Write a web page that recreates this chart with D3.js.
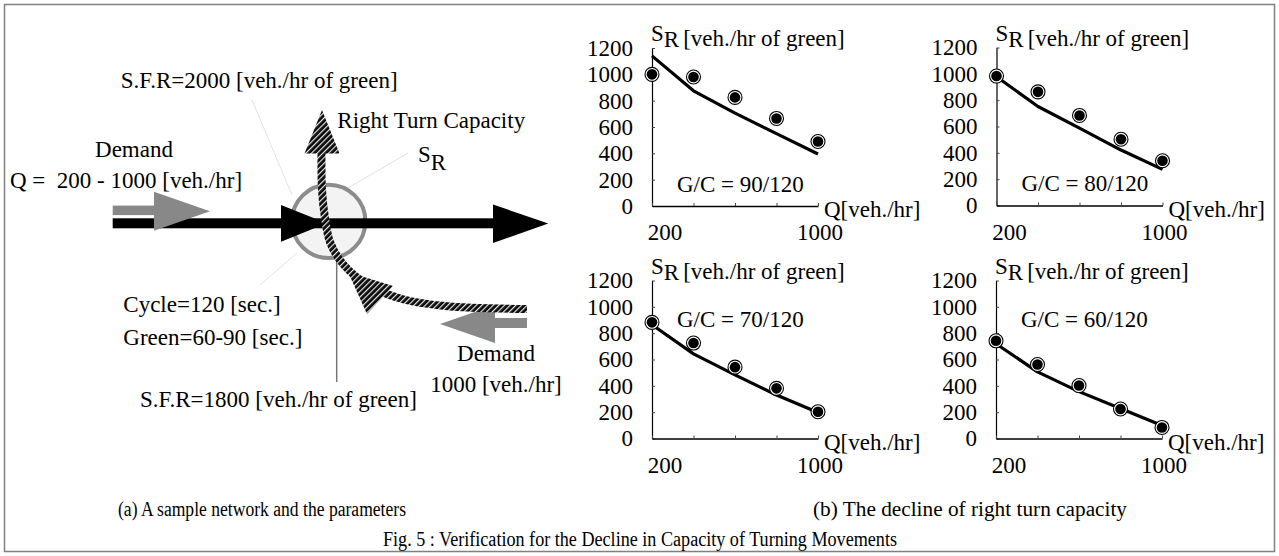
<!DOCTYPE html>
<html><head><meta charset="utf-8">
<script src="https://cdn.jsdelivr.net/npm/d3@7"></script>
<style>
body{margin:0;background:#fff;}
text{font-family:"Liberation Serif","Times New Roman",serif;fill:#000;}
</style></head>
<body><svg id="c" width="1279" height="556"></svg>
<script>
// ---------------- data ----------------
const qValues = [200, 400, 600, 800, 1000];
const yTickValues = [0, 200, 400, 600, 800, 1000, 1200];
const xTickLabels = [200, 1000];
const gcLabels = ["G/C = 90/120", "G/C = 80/120", "G/C = 70/120", "G/C = 60/120"];
const observed90 = [1000, 980, 825, 665, 490];
const model90    = [1140, 875, 705, 550, 395];
const observed80 = [983, 863, 684, 503, 340];
const model80    = [978, 752, 588, 421, 274];
const observed70 = [882, 725, 542, 381, 203];
const model70    = [864, 643, 483, 330, 198];
const observed60 = [742, 562, 402, 224, 84];
const model60    = [720, 506, 356, 228, 98];
const yTitle = "[veh./hr of green]";
const xTitle = "Q[veh./hr]";

// ---------------- layout ----------------
const svg = d3.select("#c");
const W = 1279, H = 556;
svg.append("rect").attr("x",4.5).attr("y",4.5).attr("width",W-9).attr("height",H-9)
  .attr("fill","none").attr("stroke","#808080").attr("stroke-width",1.5);

const panels = [
  {ox:652,   oy:206,   obs:observed90, mod:model90, gc:gcLabels[0], gcVal:110},
  {ox:996.5, oy:205.5, obs:observed80, mod:model80, gc:gcLabels[1], gcVal:110},
  {ox:652,   oy:438.5, obs:observed70, mod:model70, gc:gcLabels[2], gcVal:850},
  {ox:996,   oy:438.5, obs:observed60, mod:model60, gc:gcLabels[3], gcVal:850}
];
const PW = 166, PH = 158, FS = 23;

panels.forEach(p => {
  const x = d3.scaleLinear().domain([200,1000]).range([p.ox, p.ox+PW]);
  const y = d3.scaleLinear().domain([0,1200]).range([p.oy, p.oy-PH]);
  const g = svg.append("g");

  const ya = g.append("g").attr("transform",`translate(${p.ox},0)`)
    .call(d3.axisLeft(y).tickValues(yTickValues).tickFormat(d3.format("d"))
      .tickSize(-3).tickSizeOuter(0).tickPadding(19));
  ya.select(".domain").attr("stroke","#000").attr("stroke-width",1.2);
  ya.selectAll(".tick line").attr("stroke","#444");
  ya.selectAll("text").style("font-size",FS+"px").style("font-family","'Liberation Serif',serif")
    .attr("dy","0.32em");

  const xa = g.append("g").attr("transform",`translate(0,${p.oy})`)
    .call(d3.axisBottom(x).tickValues(qValues).tickSize(-3).tickSizeOuter(0).tickFormat(""));
  xa.select(".domain").attr("stroke","#000").attr("stroke-width",1.4);
  xa.selectAll(".tick line").attr("stroke","#444");

  g.selectAll("text.xl").data(xTickLabels).enter().append("text")
    .attr("class","xl").attr("x",d => x(d) + (d===200 ? 13 : 2)).attr("y",p.oy+34)
    .attr("text-anchor","middle").style("font-size",FS+"px").text(d => d);

  g.append("text").attr("x",x(1000)+6).attr("y",p.oy+11).style("font-size",FS+"px").text(xTitle);

  const t = g.append("text").attr("x",p.ox-1).attr("y",p.oy-PH-7).style("font-size",FS+"px");
  t.append("tspan").text("S");
  t.append("tspan").attr("dy",6).text("R");
  t.append("tspan").attr("dy",-1).attr("dx",4).text(yTitle);

  g.append("text").attr("x",p.ox+25).attr("y",y(p.gcVal)).style("font-size",FS+"px").text(p.gc);

  const line = d3.line().x((d,i)=>x(qValues[i])).y(d=>y(d));
  g.append("path").datum(p.mod).attr("d",line).attr("fill","none")
    .attr("stroke","#000").attr("stroke-width",3.2).attr("stroke-linejoin","round");

  const pts = g.selectAll("g.pt").data(p.obs).enter().append("g").attr("class","pt")
    .attr("transform",(d,i)=>`translate(${x(qValues[i])},${y(d)})`);
  pts.append("circle").attr("r",7).attr("fill","#fff").attr("stroke","#000").attr("stroke-width",1.1);
  pts.append("circle").attr("r",5.3).attr("fill","#000");
});

// ---------------- left diagram ----------------
const defs = svg.append("defs");
const pat = defs.append("pattern").attr("id","stripe").attr("patternUnits","userSpaceOnUse")
  .attr("width",4).attr("height",4).attr("patternTransform","rotate(45)");
pat.append("rect").attr("width",4).attr("height",4).attr("fill","#0a0a0a");
pat.append("rect").attr("width",1.2).attr("height",4).attr("fill","#e8e8e8");

const dg = svg.append("g");
// faint leader lines
[[252,100,292,195],[408,153,336,195],[260,285,297,253]].forEach(l=>{
  dg.append("line").attr("x1",l[0]).attr("y1",l[1]).attr("x2",l[2]).attr("y2",l[3])
    .attr("stroke","#e2e2e2").attr("stroke-width",1);
});
// intersection circle
dg.append("circle").attr("cx",328.7).attr("cy",221.4).attr("r",36.7)
  .attr("fill","#f3f3f3").attr("stroke","#8c8c8c").attr("stroke-width",4);
// vertical gray line
dg.append("line").attr("x1",336.7).attr("y1",258).attr("x2",336.7).attr("y2",382)
  .attr("stroke","#777").attr("stroke-width",1.5);
// main black through road
dg.append("rect").attr("x",112.7).attr("y",218.3).attr("width",382).attr("height",10).attr("fill","#000");
dg.append("path").attr("d","M281,205L326.7,223.3L281,241.7Z").attr("fill","#000");
dg.append("path").attr("d","M493,204.5L548.3,223.5L493,243Z").attr("fill","#000");
// gray demand arrow (left)
dg.append("rect").attr("x",112.7).attr("y",205.6).attr("width",43).attr("height",9.5).attr("fill","#888");
dg.append("path").attr("d","M154,191.7L210,211.2L154,230.7Z").attr("fill","#888");
// gray demand arrow (right)
dg.append("rect").attr("x",493).attr("y",318).attr("width",34).attr("height",10).attr("fill","#888");
dg.append("path").attr("d","M495,305L440,324L495,343Z").attr("fill","#888");
// striped right-turn path
const turnPts = [[527,309],[445,306],[402,299],[368,285],[343,264],[330,242],[325,218],[322,190],[321.5,152]];
dg.append("path").attr("d",d3.line().curve(d3.curveCatmullRom)(turnPts))
  .attr("fill","none").attr("stroke","url(#stripe)").attr("stroke-width",8);
dg.append("path").attr("d","M322,110L304.5,153.5L339.5,153.5Z").attr("fill","url(#stripe)");
dg.append("path").attr("d","M348,272L393,286L367,314Z").attr("fill","url(#stripe)");

// diagram texts
const dtext = (x,y,s,anchor) => dg.append("text").attr("x",x).attr("y",y)
  .attr("text-anchor",anchor||"start").style("font-size",FS+"px").style("white-space","pre").text(s);
dtext(120.7,88.3,"S.F.R=2000 [veh./hr of green]");
dtext(337.3,128.3,"Right Turn Capacity");
const sr = dg.append("text").attr("x",418).attr("y",161.7).style("font-size",FS+"px");
sr.append("tspan").text("S"); sr.append("tspan").attr("dy",8).text("R");
dtext(134,156.7,"Demand","middle");
dtext(10,188.3,"Q =  200 - 1000 [veh./hr]");
dtext(123.3,311.7,"Cycle=120 [sec.]");
dtext(123.3,345,"Green=60-90 [sec.]");
dtext(140,406.7,"S.F.R=1800 [veh./hr of green]");
dtext(496,360.7,"Demand","middle");
dtext(496,391.7,"1000 [veh./hr]","middle");

// captions
const ctext = (x,y,s,fs,len) => svg.append("text").attr("x",x).attr("y",y).attr("text-anchor","middle")
  .style("font-size",fs+"px").attr("textLength",len).attr("lengthAdjust","spacingAndGlyphs").text(s);
ctext(262,516,"(a) A sample network and the parameters",20.5,288);
ctext(970,516,"(b) The decline of right turn capacity",20.5,314);
ctext(640,546,"Fig. 5 : Verification for the Decline in Capacity of Turning Movements",20,514);
</script></body></html>
